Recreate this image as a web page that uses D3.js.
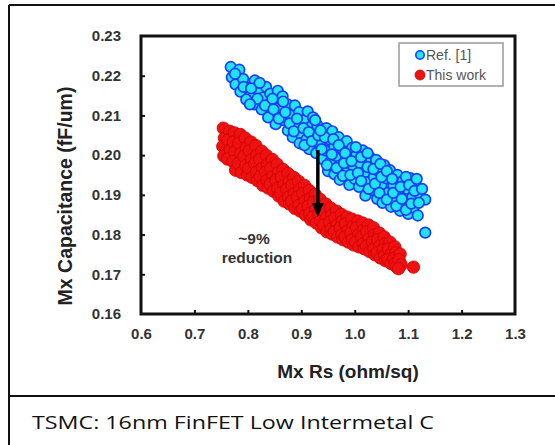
<!DOCTYPE html>
<html>
<head>
<meta charset="utf-8">
<script src="https://cdn.jsdelivr.net/npm/d3@7"></script>
<style>
  html, body { margin: 0; padding: 0; background: #fff; }
  svg { display: block; }
</style>
</head>
<body>
<svg id="chart" width="555" height="445"></svg>
<script>
// Axis ticks
const xTicks = [0.6, 0.7, 0.8, 0.9, 1.0, 1.1, 1.2, 1.3];
const yTicks = [0.16, 0.17, 0.18, 0.19, 0.20, 0.21, 0.22, 0.23];

// Ref. [1] measurements: [Mx Rs, Mx Capacitance]
const refPoints = [
  [0.768,0.2222],[0.784,0.2215],[0.770,0.2196],[0.777,0.2178],[0.791,0.2192],
  [0.799,0.2170],[0.786,0.2160],[0.805,0.2150],[0.813,0.2188],[0.820,0.2165],
  [0.797,0.2140],[0.812,0.2128],[0.828,0.2145],[0.834,0.2172],[0.842,0.2155],
  [0.826,0.2115],[0.841,0.2128],[0.856,0.2162],[0.865,0.2148],[0.851,0.2105],
  [0.838,0.2095],[0.860,0.2120],[0.874,0.2128],[0.867,0.2088],[0.852,0.2078],
  [0.880,0.2100],[0.888,0.2125],[0.896,0.2108],[0.875,0.2062],[0.890,0.2075],
  [0.884,0.2045],[0.900,0.2052],[0.905,0.2088],[0.912,0.2110],[0.918,0.2072],
  [0.897,0.2030],[0.910,0.2040],[0.922,0.2095],[0.925,0.2050],[0.915,0.2015],
  [0.930,0.2075],[0.935,0.2030],[0.928,0.2005],[0.942,0.2060],[0.947,0.2068],
  [0.940,0.1990],[0.945,0.2012],[0.952,0.2040],[0.958,0.2060],[0.955,0.1985],
  [0.950,0.1960],[0.962,0.2022],[0.965,0.1998],[0.962,0.1952],[0.970,0.2045],
  [0.975,0.1970],[0.978,0.2012],[0.972,0.1938],[0.985,0.2035],[0.988,0.1990],
  [0.984,0.1955],[0.990,0.1925],[0.995,0.2018],[0.998,0.1968],[1.003,0.2000],
  [1.000,0.1940],[1.008,0.1920],[1.010,0.1980],[1.015,0.2012],[1.018,0.1955],
  [1.022,0.1932],[1.020,0.1898],[1.028,0.1995],[1.030,0.1970],[1.034,0.1912],
  [1.036,0.1945],[1.040,0.1988],[1.045,0.1960],[1.042,0.1890],[1.050,0.1925],
  [1.055,0.1975],[1.052,0.1880],[1.058,0.1942],[1.062,0.1905],[1.066,0.1962],
  [1.068,0.1870],[1.072,0.1925],[1.075,0.1888],[1.080,0.1950],[1.083,0.1905],
  [1.085,0.1860],[1.090,0.1935],[1.094,0.1878],[1.098,0.1915],[1.100,0.1852],
  [1.104,0.1942],[1.108,0.1895],[1.110,0.1868],[1.114,0.1925],[1.118,0.1848],
  [1.122,0.1900],[1.132,0.1888],[1.132,0.1805],
  [0.776,0.2205],[0.792,0.2172],[0.806,0.2168],[0.818,0.2142],[0.804,0.2128],
  [0.822,0.2182],[0.832,0.2125],[0.846,0.2142],[0.848,0.2115],[0.858,0.2092],
  [0.866,0.2135],[0.870,0.2108],[0.878,0.2080],[0.886,0.2060],[0.892,0.2092],
  [0.904,0.2068],[0.906,0.2025],[0.914,0.2058],[0.920,0.2035],[0.926,0.2088],
  [0.932,0.2050],[0.938,0.2015],[0.944,0.2045],[0.936,0.2062],[0.948,0.1975],
  [0.957,0.2002],[0.960,0.2040],[0.966,0.1968],[0.970,0.2025],[0.980,0.1980],
  [0.978,0.1948],[0.982,0.2005],[0.992,0.1950],[0.994,0.1985],[1.006,0.1955],
  [1.002,0.2020],[1.012,0.1935],[1.012,0.1995],[1.024,0.1970],[1.026,0.1915],
  [1.024,0.2005],[1.038,0.1928],[1.035,0.1965],[1.046,0.1905],[1.048,0.1978],
  [1.050,0.1945],[1.060,0.1888],[1.060,0.1960],[1.070,0.1940],[1.072,0.1905],
  [1.078,0.1872],[1.086,0.1920],[1.088,0.1890],[1.096,0.1862],[1.096,0.1945],
  [1.102,0.1925],[1.106,0.1878],[1.112,0.1910],[1.116,0.1940],[1.120,0.1880],
  [1.126,0.1915]
];

// This work measurements: [Mx Rs, Mx Capacitance]
const workPoints = [
  [0.754,0.2068],[0.756,0.2043],[0.753,0.2022],[0.755,0.1998],
  [0.766,0.2060],[0.763,0.2038],[0.767,0.2014],[0.762,0.1990],
  [0.775,0.2056],[0.773,0.2033],[0.776,0.2008],[0.772,0.1984],[0.777,0.1962],
  [0.786,0.2052],[0.783,0.2030],[0.787,0.2004],[0.782,0.1979],[0.788,0.1956],
  [0.795,0.2043],[0.797,0.2019],[0.793,0.1997],[0.796,0.1974],[0.799,0.1950],
  [0.806,0.2033],[0.803,0.2011],[0.807,0.1988],[0.802,0.1966],[0.808,0.1944],
  [0.815,0.2024],[0.817,0.2000],[0.813,0.1979],[0.816,0.1957],[0.818,0.1936],
  [0.826,0.2010],[0.822,0.1989],[0.827,0.1967],[0.823,0.1946],[0.828,0.1924],
  [0.835,0.1999],[0.837,0.1977],[0.833,0.1957],[0.836,0.1936],[0.838,0.1917],
  [0.846,0.1989],[0.843,0.1967],[0.847,0.1946],[0.842,0.1927],[0.848,0.1909],
  [0.855,0.1977],[0.857,0.1956],[0.853,0.1937],[0.856,0.1916],[0.858,0.1897],
  [0.866,0.1964],[0.863,0.1944],[0.867,0.1923],[0.862,0.1904],[0.868,0.1884],
  [0.875,0.1954],[0.877,0.1933],[0.873,0.1914],[0.876,0.1894],[0.878,0.1877],
  [0.886,0.1944],[0.883,0.1924],[0.887,0.1903],[0.882,0.1884],[0.888,0.1866],
  [0.895,0.1934],[0.897,0.1914],[0.893,0.1894],[0.896,0.1874],[0.898,0.1859],
  [0.906,0.1924],[0.903,0.1903],[0.907,0.1884],[0.902,0.1864],[0.908,0.1849],
  [0.915,0.1911],[0.917,0.1891],[0.913,0.1871],[0.916,0.1854],[0.918,0.1837],
  [0.926,0.1901],[0.923,0.1881],[0.927,0.1861],[0.922,0.1844],[0.928,0.1829],
  [0.935,0.1889],[0.937,0.1869],[0.933,0.1851],[0.936,0.1834],[0.938,0.1817],
  [0.946,0.1877],[0.943,0.1859],[0.947,0.1841],[0.942,0.1824],[0.948,0.1807],
  [0.955,0.1867],[0.957,0.1849],[0.953,0.1831],[0.956,0.1814],[0.958,0.1801],
  [0.966,0.1859],[0.963,0.1841],[0.967,0.1824],[0.962,0.1807],[0.968,0.1794],
  [0.975,0.1851],[0.977,0.1834],[0.973,0.1817],[0.976,0.1799],[0.978,0.1787],
  [0.986,0.1844],[0.983,0.1827],[0.987,0.1809],[0.982,0.1794],[0.988,0.1781],
  [0.995,0.1839],[0.997,0.1821],[0.993,0.1804],[0.996,0.1787],[0.998,0.1774],
  [1.006,0.1834],[1.003,0.1817],[1.007,0.1799],[1.002,0.1781],[1.008,0.1769],
  [1.015,0.1829],[1.017,0.1811],[1.013,0.1794],[1.016,0.1777],[1.018,0.1764],
  [1.026,0.1824],[1.023,0.1807],[1.027,0.1789],[1.022,0.1771],[1.028,0.1757],
  [1.035,0.1817],[1.037,0.1799],[1.033,0.1781],[1.036,0.1764],[1.038,0.1749],
  [1.046,0.1804],[1.043,0.1787],[1.047,0.1771],[1.042,0.1754],[1.048,0.1741],
  [1.055,0.1794],[1.057,0.1777],[1.053,0.1761],[1.056,0.1747],[1.058,0.1734],
  [1.066,0.1781],[1.063,0.1764],[1.067,0.1749],[1.062,0.1737],[1.068,0.1727],
  [1.075,0.1769],[1.077,0.1754],[1.073,0.1739],[1.076,0.1727],[1.078,0.1719],
  [1.085,0.1751],[1.083,0.1737],[1.087,0.1724],[1.082,0.1714],
  [1.110,0.1718]
];

// Reduction arrow: x position, start and end capacitance
const arrowX = 0.931;
const arrowFrom = 0.2013;
const arrowTo = 0.1844;

const legendItems = [
  { label: "Ref. [1]", fill: "#1ee4f4", stroke: "#1a3cff" },
  { label: "This work", fill: "#ee1111", stroke: "#d00000" }
];

const svg = d3.select("#chart");
const W = 555, H = 445;

// Outer frame and caption panel
svg.append("line").attr("x1", 9).attr("x2", 9).attr("y1", 5).attr("y2", H)
  .attr("stroke", "#111").attr("stroke-width", 2);
svg.append("line").attr("x1", 9).attr("x2", W).attr("y1", 5).attr("y2", 5)
  .attr("stroke", "#111").attr("stroke-width", 2);
svg.append("line").attr("x1", 9).attr("x2", W).attr("y1", 396).attr("y2", 396)
  .attr("stroke", "#111").attr("stroke-width", 2);

svg.append("text")
  .attr("x", 32).attr("y", 429)
  .attr("font-family", "'Open Sans', 'Noto Sans', sans-serif")
  .attr("font-size", 19)
  .attr("fill", "#111")
  .attr("textLength", 402)
  .attr("lengthAdjust", "spacingAndGlyphs")
  .text("TSMC: 16nm FinFET Low Intermetal C");

// Plot area
const plot = { left: 141, right: 515, top: 36, bottom: 314 };
const x = d3.scaleLinear().domain([0.6, 1.3]).range([plot.left, plot.right]);
const y = d3.scaleLinear().domain([0.16, 0.23]).range([plot.bottom, plot.top]);

const labelFont = "Arial, 'Liberation Sans', Helvetica, sans-serif";

// Axes (ticks point inward)
const xAxis = d3.axisBottom(x).tickValues(xTicks).tickSize(-4).tickPadding(14)
  .tickFormat(d3.format(".1f"));
const yAxis = d3.axisLeft(y).tickValues(yTicks).tickSize(-4).tickPadding(20)
  .tickFormat(d3.format(".2f"));

const gx = svg.append("g").attr("transform", `translate(0,${plot.bottom})`).call(xAxis);
const gy = svg.append("g").attr("transform", `translate(${plot.left},0)`).call(yAxis);
[gx, gy].forEach(g => {
  g.select(".domain").remove();
  g.selectAll(".tick line").attr("stroke", "#111").attr("stroke-width", 2);
  g.selectAll(".tick text")
    .attr("font-family", labelFont)
    .attr("font-weight", "bold")
    .attr("font-size", 15)
    .attr("fill", "#333");
});
gx.selectAll(".tick").filter(d => d === 0.6 || d === 1.3).select("line").remove();
gy.selectAll(".tick").filter(d => d === 0.16 || d === 0.23).select("line").remove();

// Points
svg.append("g").selectAll("circle").data(workPoints).join("circle")
  .attr("cx", d => x(d[0])).attr("cy", d => y(d[1]))
  .attr("r", 6.2)
  .attr("fill", legendItems[1].fill)
  .attr("stroke", legendItems[1].stroke)
  .attr("stroke-width", 0.8);

svg.append("g").selectAll("circle").data(refPoints).join("circle")
  .attr("cx", d => x(d[0])).attr("cy", d => y(d[1]))
  .attr("r", 5.3)
  .attr("fill", legendItems[0].fill)
  .attr("stroke", legendItems[0].stroke)
  .attr("stroke-width", 1.7);

// Plot frame
svg.append("rect")
  .attr("x", plot.left).attr("y", plot.top)
  .attr("width", plot.right - plot.left).attr("height", plot.bottom - plot.top)
  .attr("fill", "none").attr("stroke", "#111").attr("stroke-width", 3);

// Reduction arrow
const ax = x(arrowX), ay0 = y(arrowFrom), ay1 = y(arrowTo);
svg.append("line")
  .attr("x1", ax).attr("x2", ax).attr("y1", ay0).attr("y2", ay1 - 12)
  .attr("stroke", "#000").attr("stroke-width", 3.5);
svg.append("path")
  .attr("d", `M${ax - 6},${ay1 - 14} L${ax + 6},${ay1 - 14} L${ax},${ay1} Z`)
  .attr("fill", "#000");

// Annotation
const note = svg.append("text")
  .attr("font-family", labelFont)
  .attr("font-weight", "bold")
  .attr("font-size", 15.5)
  .attr("fill", "#333")
  .attr("text-anchor", "middle");
note.append("tspan").attr("x", 254).attr("y", 244).text("~9%");
note.append("tspan").attr("x", 257).attr("y", 263).text("reduction");

// Axis titles
svg.append("text")
  .attr("x", 348).attr("y", 378)
  .attr("text-anchor", "middle")
  .attr("font-family", labelFont)
  .attr("font-weight", "bold")
  .attr("font-size", 19)
  .attr("fill", "#222")
  .text("Mx Rs (ohm/sq)");

svg.append("text")
  .attr("transform", "translate(72,196) rotate(-90)")
  .attr("text-anchor", "middle")
  .attr("font-family", labelFont)
  .attr("font-weight", "bold")
  .attr("font-size", 19.5)
  .attr("fill", "#222")
  .text("Mx Capacitance (fF/um)");

// Legend
const lg = svg.append("g");
lg.append("rect")
  .attr("x", 399).attr("y", 43).attr("width", 104).attr("height", 43)
  .attr("fill", "#fff").attr("stroke", "#999").attr("stroke-width", 1.5);
legendItems.forEach((item, i) => {
  const cy = 55 + i * 20;
  lg.append("circle")
    .attr("cx", 420).attr("cy", cy).attr("r", i === 0 ? 4.2 : 5)
    .attr("fill", item.fill).attr("stroke", item.stroke)
    .attr("stroke-width", i === 0 ? 1.6 : 0.8);
  lg.append("text")
    .attr("x", 426).attr("y", cy + 5)
    .attr("font-family", labelFont)
    .attr("font-size", 14)
    .attr("fill", "#555")
    .text(item.label);
});
</script>
</body>
</html>
